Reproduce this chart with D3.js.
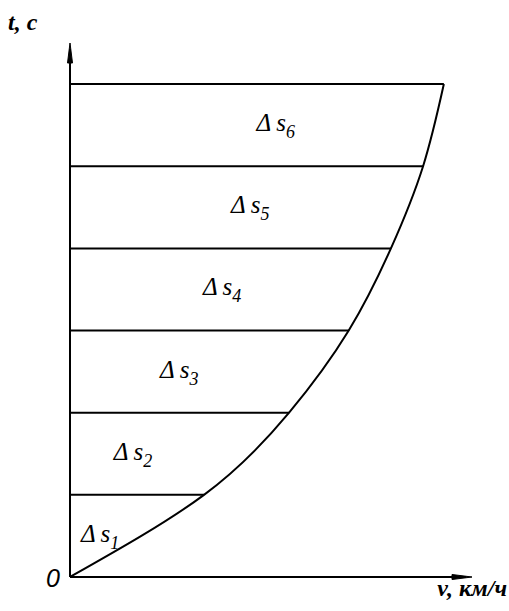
<!DOCTYPE html>
<head>
<meta charset="utf-8">
</head>
<body style="margin:0">
<svg width="509" height="611"></svg>
<script src="https://cdn.jsdelivr.net/npm/d3@7"></script>
<script>

    // values
    var bands = ["1", "2", "3", "4", "5", "6"];
    var timeS = [0, 5, 10, 15, 20, 25, 30];            // t, c
    var speedKmh = [0, 20.0, 32.7, 41.6, 47.9, 52.7, 55.8]; // v, км/ч
    var labelKmh = [4.5, 9.4, 16.3, 22.7, 26.9, 30.7];  // where each Δs label sits

    var serif = "Liberation Serif, Times New Roman, serif";
    var sans = "Liberation Sans, sans-serif";

    var W = 509, H = 611;
    var svg = d3.select("svg");

    var margin = {top: 43, right: 37, bottom: 34, left: 70};

    var x = d3.scaleLinear()
        .domain([0, 60])
        .range([margin.left, W - margin.right]);

    var y = d3.scaleLinear()
        .domain([0, 32.5])
        .range([H - margin.bottom, margin.top]);

    var pts = timeS.map(function (t, i) {
        return {t: t, v: speedKmh[i]};
    });

    // horizontal strips
    svg.selectAll(".band")
        .data(pts.slice(1))
        .enter().append("line")
        .attr("class", "band")
        .attr("stroke", "black").attr("stroke-width", 2)
        .attr("x1", x(0))
        .attr("x2", function (d) { return x(d.v); })
        .attr("y1", function (d) { return y(d.t); })
        .attr("y2", function (d) { return y(d.t); });

    // v(t) curve
    svg.append("path")
        .datum(pts)
        .attr("fill", "none").attr("stroke", "black").attr("stroke-width", 2)
        .attr("d", d3.line()
            .curve(d3.curveNatural)
            .x(function (d) { return x(d.v); })
            .y(function (d) { return y(d.t); }));

    // axes
    var x0 = x(0), y0 = y(0), xEnd = x.range()[1], yEnd = y.range()[1];

    svg.append("line").attr("stroke", "black").attr("stroke-width", 2)
        .attr("x1", x0).attr("x2", x0)
        .attr("y1", y0).attr("y2", yEnd + 6);
    svg.append("line").attr("stroke", "black").attr("stroke-width", 2)
        .attr("x1", x0).attr("x2", xEnd - 6)
        .attr("y1", y0).attr("y2", y0);

    svg.append("path").attr("fill", "black").attr("stroke", "black")
        .attr("d", "M" + x0 + "," + yEnd + "L" + (x0 - 2.5) + "," + (yEnd + 20) +
            "L" + (x0 + 2.5) + "," + (yEnd + 20) + "Z");
    svg.append("path").attr("fill", "black").attr("stroke", "black")
        .attr("d", "M" + xEnd + "," + y0 + "L" + (xEnd - 20) + "," + (y0 - 2.5) +
            "L" + (xEnd - 20) + "," + (y0 + 2.5) + "Z");

    function font(sel, fam, size, weight) {
        sel.attr("font-family", fam).attr("font-style", "italic")
            .attr("font-size", size).attr("font-weight", weight || "normal");
    }

    svg.append("text")
        .attr("x", 8).attr("y", 30)
        .call(font, serif, 24, "bold")
        .text("t, с");
    svg.append("text")
        .attr("x", W - 2).attr("y", 596)
        .attr("text-anchor", "end")
        .call(font, serif, 24, "bold")
        .text("v, км/ч");
    svg.append("text")
        .attr("x", x0 - 24).attr("y", y0 + 10)
        .call(font, sans, 25)
        .text("0");

    // Δs labels
    var label = svg.selectAll(".label")
        .data(bands)
        .enter().append("text")
        .attr("class", "label")
        .attr("text-anchor", "middle")
        .call(font, serif, 25)
        .attr("x", function (d, i) { return x(labelKmh[i]); })
        .attr("y", function (d, i) { return (y(timeS[i]) + y(timeS[i + 1])) / 2 + 6; });

    label.append("tspan").text("Δ\u2009s");
    label.append("tspan").attr("dy", 7).attr("font-size", 18)
        .text(function (d) { return d; });

</script>
</body>
